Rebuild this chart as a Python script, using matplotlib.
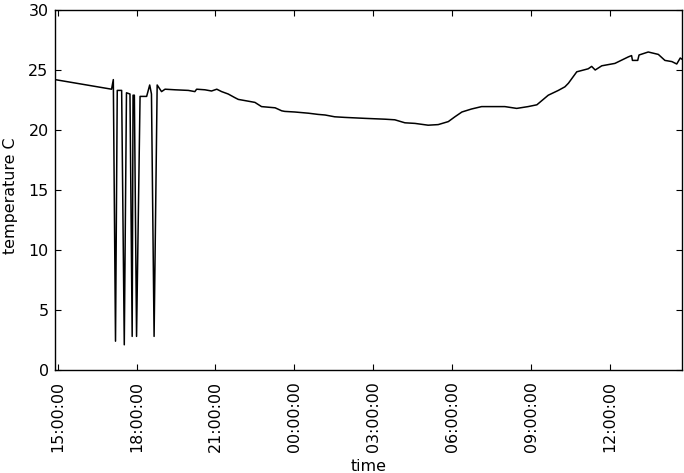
import matplotlib
matplotlib.use("Agg")
import matplotlib.pyplot as plt
import matplotlib.dates as mdates
import pandas as pd

times = [
    "2014-01-01 14:54", "2014-01-01 17:03", "2014-01-01 17:07", "2014-01-01 17:12",
    "2014-01-01 17:16", "2014-01-01 17:26", "2014-01-01 17:32", "2014-01-01 17:37",
    "2014-01-01 17:45", "2014-01-01 17:50", "2014-01-01 17:52", "2014-01-01 17:55",
    "2014-01-01 18:00", "2014-01-01 18:08", "2014-01-01 18:23", "2014-01-01 18:30",
    "2014-01-01 18:34", "2014-01-01 18:40", "2014-01-01 18:47", "2014-01-01 18:57",
    "2014-01-01 19:05", "2014-01-01 19:28", "2014-01-01 19:58", "2014-01-01 20:13",
    "2014-01-01 20:17", "2014-01-01 20:36", "2014-01-01 20:51", "2014-01-01 21:03",
    "2014-01-01 21:14", "2014-01-01 21:29", "2014-01-01 21:44", "2014-01-01 21:52",
    "2014-01-01 22:15", "2014-01-01 22:30", "2014-01-01 22:45", "2014-01-01 23:16",
    "2014-01-01 23:31", "2014-01-01 23:38", "2014-01-02 00:01", "2014-01-02 00:32",
    "2014-01-02 00:54", "2014-01-02 01:10", "2014-01-02 01:32", "2014-01-02 01:55",
    "2014-01-02 02:41", "2014-01-02 03:27", "2014-01-02 03:49", "2014-01-02 04:12",
    "2014-01-02 04:35", "2014-01-02 05:05", "2014-01-02 05:28", "2014-01-02 05:51",
    "2014-01-02 06:06", "2014-01-02 06:22", "2014-01-02 06:44", "2014-01-02 07:07",
    "2014-01-02 07:49", "2014-01-02 08:00", "2014-01-02 08:27", "2014-01-02 08:53",
    "2014-01-02 09:13", "2014-01-02 09:39", "2014-01-02 10:02", "2014-01-02 10:17",
    "2014-01-02 10:25", "2014-01-02 10:44", "2014-01-02 11:10", "2014-01-02 11:18",
    "2014-01-02 11:26", "2014-01-02 11:41", "2014-01-02 12:11", "2014-01-02 12:42",
    "2014-01-02 12:49", "2014-01-02 12:51", "2014-01-02 13:03", "2014-01-02 13:06",
    "2014-01-02 13:27", "2014-01-02 13:50", "2014-01-02 14:05", "2014-01-02 14:21",
    "2014-01-02 14:32", "2014-01-02 14:40", "2014-01-02 14:44",
]
temperature = [
    24.2, 23.4, 24.2, 2.4,
    23.3, 23.3, 2.1, 23.1,
    23.0, 2.8, 22.9, 22.9,
    2.8, 22.8, 22.8, 23.75,
    23.0, 2.8, 23.75, 23.2,
    23.4, 23.35, 23.3, 23.2,
    23.4, 23.35, 23.25, 23.4,
    23.2, 23.0, 22.7, 22.55,
    22.4, 22.3, 21.95, 21.85,
    21.6, 21.55, 21.5, 21.4,
    21.3, 21.25, 21.1, 21.05,
    20.97, 20.9, 20.85, 20.6,
    20.55, 20.4, 20.45, 20.7,
    21.1, 21.5, 21.75, 21.95,
    21.95, 21.95, 21.8, 21.95,
    22.1, 22.9, 23.3, 23.6,
    23.9, 24.85, 25.1, 25.3,
    25.0, 25.35, 25.55, 26.1,
    26.2, 25.8, 25.8, 26.25,
    26.5, 26.3, 25.8, 25.7,
    25.5, 26.0, 25.9,
]
y_ticks = [0, 5, 10, 15, 20, 25, 30]

t = pd.to_datetime(times)

plt.rcParams['font.family'] = ['DejaVu Sans']
fs = 11.4
fig = plt.figure(figsize=(6.84, 4.73), dpi=100)
ax = fig.add_axes([55 / 684, 103 / 473, 627 / 684, 360 / 473])
ax.plot(t, temperature, color='black', linewidth=1.1)
ax.set_xlim(t[0], t[-1])
ax.set_ylim(0, 30)
ax.set_yticks(y_ticks)
ax.xaxis.set_major_locator(mdates.HourLocator(byhour=range(0, 24, 3)))
ax.xaxis.set_major_formatter(mdates.DateFormatter('%H:%M:%S'))
ax.tick_params(direction='in', length=4, labelsize=fs, top=True, right=True)
ax.tick_params(axis='x', pad=8.2)
ax.tick_params(axis='y', pad=4.6)
for lbl in ax.get_xticklabels():
    lbl.set_rotation(90)
ax.set_xlabel('time', fontsize=fs)
ax.set_ylabel('temperature C', fontsize=fs)
ax.xaxis.set_label_coords(0.5, (370 - 459) / 360)
ax.yaxis.set_label_coords((18 - 55) / 627, 0.485)
for s in ax.spines.values():
    s.set_linewidth(1.0)
fig.savefig('out.png', dpi=100, transparent=True)
